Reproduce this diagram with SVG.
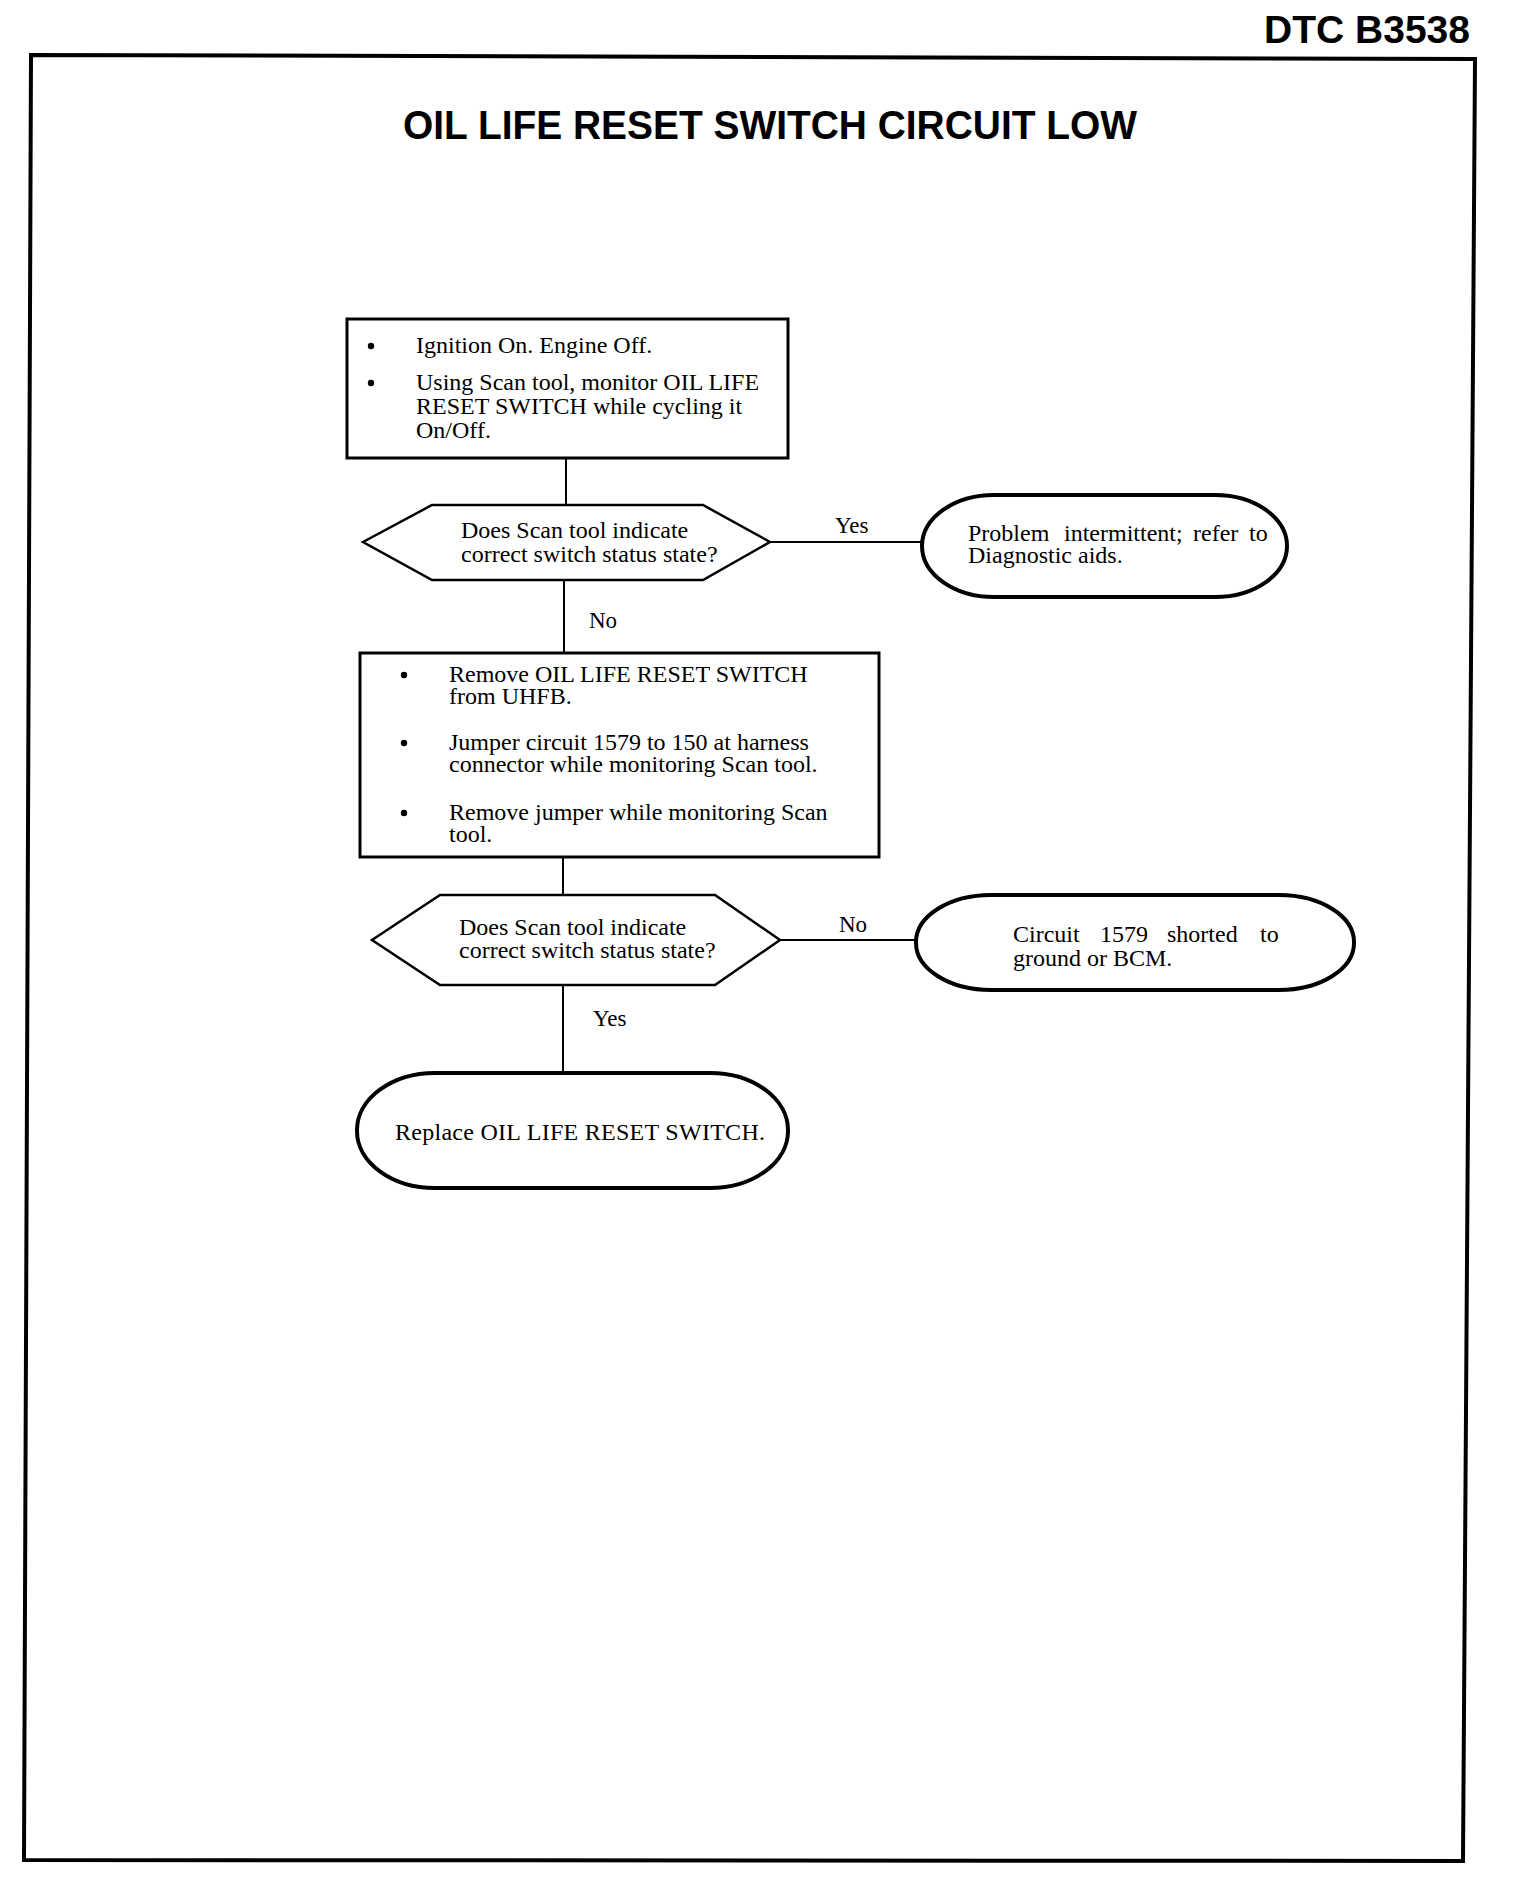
<svg xmlns="http://www.w3.org/2000/svg" width="1520" height="1896" viewBox="0 0 1520 1896">
<style>
.t{font-family:"Liberation Serif","Times New Roman",serif;font-size:24px;fill:#000}
.lbl{font-family:"Liberation Serif","Times New Roman",serif;font-size:23px;fill:#000}
.hdr{font-family:"Liberation Sans",Arial,sans-serif;font-weight:bold;fill:#000}
.box{fill:#fff;stroke:#000;stroke-width:3}
.dia{fill:#fff;stroke:#000;stroke-width:2.5}
.term{fill:#fff;stroke:#000;stroke-width:4}
.con{fill:none;stroke:#000;stroke-width:2}
</style>
<rect x="0" y="0" width="1520" height="1896" fill="#fff"/>
<polygon points="31,55 1475,59 1463,1861 24,1860" fill="none" stroke="#000" stroke-width="4"/>
<text class="hdr" x="1470" y="43" font-size="39" text-anchor="end">DTC B3538</text>
<text class="hdr" x="403" y="139" font-size="40" textLength="734" lengthAdjust="spacingAndGlyphs">OIL LIFE RESET SWITCH CIRCUIT LOW</text>

<g id="connectors">
<line class="con" x1="566" y1="458" x2="566" y2="505"/>
<line class="con" x1="564" y1="580" x2="564" y2="653"/>
<line class="con" x1="563" y1="857" x2="563" y2="895"/>
<line class="con" x1="563" y1="985" x2="563" y2="1073"/>
<line class="con" x1="770" y1="542" x2="922" y2="542"/>
<line class="con" x1="780" y1="940" x2="916" y2="940"/>
<text class="lbl" x="835" y="533">Yes</text>
<text class="lbl" x="589" y="628">No</text>
<text class="lbl" x="839" y="932">No</text>
<text class="lbl" x="593" y="1026">Yes</text>
</g>

<g id="step1">
<rect class="box" x="347" y="319" width="441" height="139"/>
<circle cx="371" cy="346" r="3.2"/>
<circle cx="371" cy="383" r="3.2"/>
<text class="t" x="416" y="353">Ignition On. Engine Off.</text>
<text class="t" x="416" y="390">Using Scan tool, monitor OIL LIFE</text>
<text class="t" x="416" y="414">RESET SWITCH while cycling it</text>
<text class="t" x="416" y="438">On/Off.</text>
</g>

<g id="decision1">
<polygon class="dia" points="363,542 432,505 703,505 770,542 703,580 432,580"/>
<text class="t" x="461" y="538">Does Scan tool indicate</text>
<text class="t" x="461" y="562">correct switch status state?</text>
</g>

<g id="result1">
<rect class="term" x="922" y="495" width="365" height="102" rx="72" ry="51"/>
<text class="t" y="541"><tspan x="968">Problem</tspan><tspan x="1064">intermittent;</tspan><tspan x="1193">refer</tspan><tspan x="1249">to</tspan></text>
<text class="t" x="968" y="563">Diagnostic aids.</text>
</g>

<g id="step2">
<rect class="box" x="360" y="653" width="519" height="204"/>
<circle cx="404" cy="675" r="3.2"/>
<circle cx="404" cy="743" r="3.2"/>
<circle cx="404" cy="813" r="3.2"/>
<text class="t" x="449" y="682">Remove OIL LIFE RESET SWITCH</text>
<text class="t" x="449" y="704">from UHFB.</text>
<text class="t" x="449" y="750">Jumper circuit 1579 to 150 at harness</text>
<text class="t" x="449" y="772">connector while monitoring Scan tool.</text>
<text class="t" x="449" y="820">Remove jumper while monitoring Scan</text>
<text class="t" x="449" y="842">tool.</text>
</g>

<g id="decision2">
<polygon class="dia" points="372,940 440,895 715,895 780,940 715,985 440,985"/>
<text class="t" x="459" y="935">Does Scan tool indicate</text>
<text class="t" x="459" y="958">correct switch status state?</text>
</g>

<g id="result2">
<rect class="term" x="916" y="895" width="438" height="95" rx="75" ry="47"/>
<text class="t" y="942"><tspan x="1013">Circuit</tspan><tspan x="1100">1579</tspan><tspan x="1167">shorted</tspan><tspan x="1260">to</tspan></text>
<text class="t" x="1013" y="966">ground or BCM.</text>
</g>

<g id="result3">
<rect class="term" x="357" y="1073" width="431" height="115" rx="78" ry="57"/>
<text class="t" x="395" y="1140" textLength="370">Replace OIL LIFE RESET SWITCH.</text>
</g>
</svg>
